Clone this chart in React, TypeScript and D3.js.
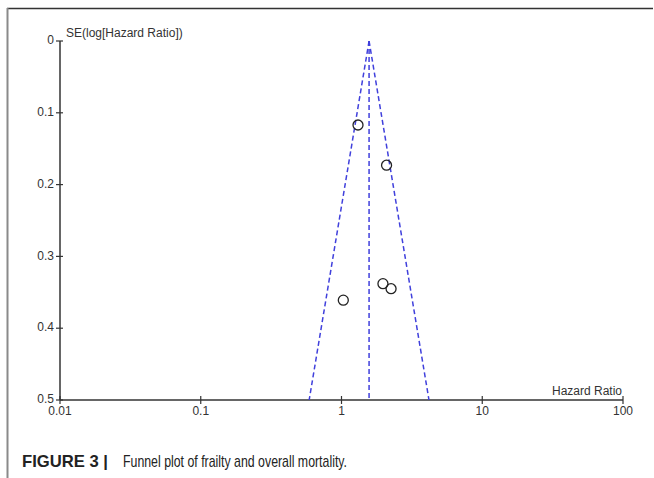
import * as d3 from "d3";
import { useMemo } from "react";

const W = 654;
const H = 478;
const M = { top: 41, right: 31, bottom: 78, left: 60 };

// study points: hazard ratio and standard error of log(HR)
const hazardRatios = [1.31, 2.09, 1.97, 2.25, 1.03];
const seValues = [0.117, 0.173, 0.338, 0.345, 0.361];

const pooledHR = 1.57;
const seMax = 0.5;

const xTickValues = [0.01, 0.1, 1, 10, 100];
const xTickLabels = ["0.01", "0.1", "1", "10", "100"];
const yTickValues = [0, 0.1, 0.2, 0.3, 0.4, 0.5];
const yTickLabels = ["0", "0.1", "0.2", "0.3", "0.4", "0.5"];

const FONT = "Arial, 'Liberation Sans', Helvetica, sans-serif";
const AXIS = "#333";
const BLUE = "#4040dc";

export default function App() {
  const x = useMemo(
    () => d3.scaleLog().domain([0.01, 100]).range([M.left, W - M.right]),
    [],
  );
  const y = useMemo(
    () => d3.scaleLinear().domain([0, seMax]).range([M.top, H - M.bottom]),
    [],
  );

  // funnel limits: log(HR) ± 1.96 * SE
  const funnel = useMemo(() => {
    const line = d3
      .line<[number, number]>()
      .x((d) => x(d[0]))
      .y((d) => y(d[1]));
    const lo = Math.exp(Math.log(pooledHR) - 1.96 * seMax);
    const hi = Math.exp(Math.log(pooledHR) + 1.96 * seMax);
    return {
      left: line([
        [pooledHR, 0],
        [lo, seMax],
      ]) ?? "",
      right: line([
        [pooledHR, 0],
        [hi, seMax],
      ]) ?? "",
      mid: line([
        [pooledHR, 0],
        [pooledHR, seMax],
      ]) ?? "",
    };
  }, [x, y]);

  const x0 = M.left;
  const yBase = H - M.bottom;

  return (
    <svg
      width={W}
      height={H}
      viewBox={`0 0 ${W} ${H}`}
      style={{ position: "absolute", left: 0, top: 0, background: "#fff" }}
      fontFamily={FONT}
    >
      {/* frame */}
      <line x1={7} x2={653} y1={8.5} y2={8.5} stroke="#333" strokeWidth={1.5} />
      <line x1={7.5} x2={7.5} y1={8} y2={H} stroke="#8a8a8a" strokeWidth={2} />

      {/* axes */}
      <line x1={x0} x2={x0} y1={M.top} y2={yBase} stroke={AXIS} strokeWidth={1.5} />
      <line x1={x0} x2={W - M.right} y1={yBase} y2={yBase} stroke={AXIS} strokeWidth={1.5} />

      {yTickValues.map((t, i) => (
        <g key={`y${t}`}>
          <line x1={x0 - 4} x2={x0 + 3} y1={y(t)} y2={y(t)} stroke={AXIS} strokeWidth={1.2} />
          <text
            x={x0 - 6}
            y={y(t)}
            textAnchor="end"
            dominantBaseline="middle"
            fontSize={12}
            fill="#333"
          >
            {yTickLabels[i]}
          </text>
        </g>
      ))}
      {xTickValues.map((t, i) => (
        <g key={`x${t}`}>
          <line x1={x(t)} x2={x(t)} y1={yBase - 4} y2={yBase + 4} stroke={AXIS} strokeWidth={1.2} />
          <text x={x(t)} y={yBase + 15} textAnchor="middle" fontSize={12} fill="#333">
            {xTickLabels[i]}
          </text>
        </g>
      ))}

      <text x={x0 + 6} y={M.top - 4} fontSize={12} fill="#333">
        SE(log[Hazard Ratio])
      </text>
      <text x={W - M.right - 1} y={yBase - 5} textAnchor="end" fontSize={12} fill="#333">
        Hazard Ratio
      </text>

      {/* funnel */}
      <path d={funnel.left} fill="none" stroke={BLUE} strokeWidth={1.5} strokeDasharray="5 3" />
      <path d={funnel.right} fill="none" stroke={BLUE} strokeWidth={1.5} strokeDasharray="5 3" />
      <path d={funnel.mid} fill="none" stroke={BLUE} strokeWidth={1.5} strokeDasharray="5 3" />

      {/* studies */}
      {hazardRatios.map((hr, i) => (
        <circle
          key={i}
          cx={x(hr)}
          cy={y(seValues[i])}
          r={5}
          fill="none"
          stroke="#222"
          strokeWidth={1.3}
        />
      ))}

      {/* caption */}
      <text
        x={22}
        y={467}
        fontSize={17}
        fontWeight="bold"
        fill="#222"
        textLength={86}
        lengthAdjust="spacingAndGlyphs"
      >
        FIGURE 3 |
      </text>
      <text
        x={123}
        y={467}
        fontSize={17}
        fill="#222"
        textLength={224}
        lengthAdjust="spacingAndGlyphs"
      >
        Funnel plot of frailty and overall mortality.
      </text>
    </svg>
  );
}
